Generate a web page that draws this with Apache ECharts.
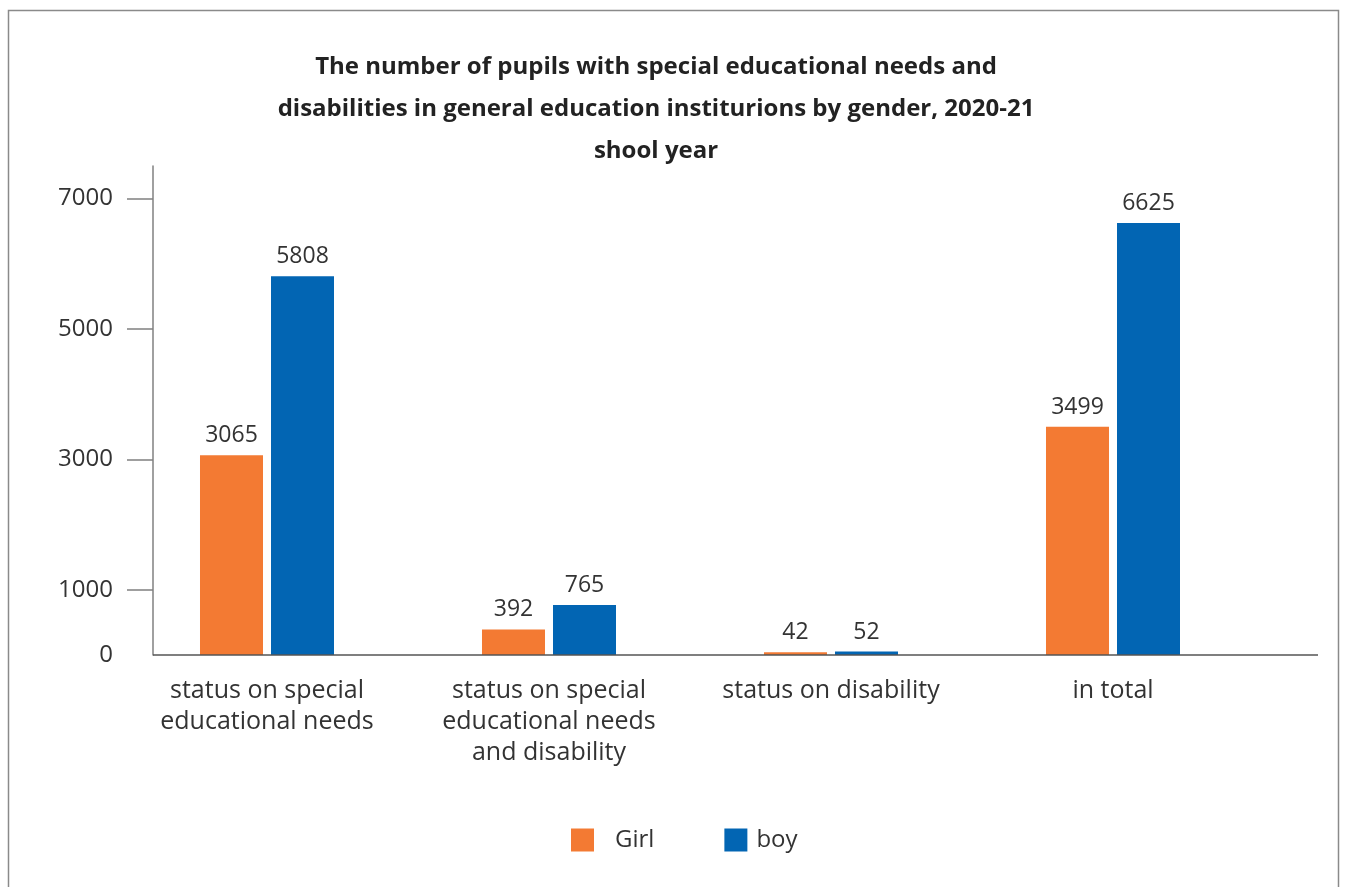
<!DOCTYPE html>
<html>
<head>
<meta charset="utf-8">
<script src="https://cdn.jsdelivr.net/npm/echarts@6/dist/echarts.min.js"></script>
<style>
html,body{margin:0;padding:0;background:#fff;}
#chart{width:1346px;height:887px;}
</style>
</head>
<body>
<div id="chart"></div>
<script>
const titleText = 'The number of pupils with special educational needs and\ndisabilities in general education institurions by gender, 2020-21\nshool year';
const categories = ['status on special\neducational needs', 'status on special\neducational needs\nand disability', 'status on disability', 'in total'];
const seriesNames = ['Girl', 'boy'];
const girlValues = [3065, 392, 42, 3499];
const boyValues = [5808, 765, 52, 6625];
const yTickLabels = [0, 1000, 3000, 5000, 7000];

const FONT = '"Open Sans", "Noto Sans", sans-serif';
const chart = echarts.init(document.getElementById('chart'), null, {renderer: 'canvas'});

const labelStyle = {show: true, position: 'top', distance: 8, color: '#333', fontSize: 23, fontFamily: FONT};

chart.setOption({
  animation: false,
  backgroundColor: '#fff',
  title: {
    text: titleText,
    left: 651,
    textAlign: 'center',
    top: 41,
    textStyle: {fontFamily: FONT, fontWeight: 'bold', fontSize: 24, lineHeight: 42, color: '#222'}
  },
  legend: {
    left: 566,
    top: 823,
    itemWidth: 23,
    itemHeight: 23,
    itemGap: 70,
    icon: 'rect',
    textStyle: {fontFamily: FONT, fontSize: 24, color: '#333'},
    data: [
      {name: seriesNames[0], textStyle: {padding: [0, 0, 0, 16]}},
      {name: seriesNames[1], textStyle: {padding: [0, 0, 0, 4]}}
    ]
  },
  grid: {left: 126, right: 92, top: 166, bottom: 232, containLabel: false},
  xAxis: {
    type: 'category',
    data: categories,
    axisLine: {show: false},
    axisTick: {show: false},
    axisLabel: {margin: 20, fontFamily: FONT, fontSize: 25, lineHeight: 31, color: '#333', interval: 0}
  },
  yAxis: {
    type: 'value',
    min: 0,
    max: 7500,
    offset: -27,
    splitLine: {show: false},
    axisLine: {show: true, lineStyle: {color: '#808080', width: 1.5}},
    axisTick: {show: true, length: 26, lineStyle: {color: '#808080', width: 1.5}, customValues: yTickLabels.filter(v => v !== 0)},
    axisLabel: {margin: 40, fontFamily: FONT, fontSize: 24, color: '#333', customValues: yTickLabels, formatter: v => String(v)}
  },
  graphic: [
    {type: 'rect', shape: {x: 8.5, y: 10.5, width: 1330, height: 900}, style: {fill: 'none', stroke: '#8a8a8a', lineWidth: 1.5}, silent: true},
    {type: 'line', shape: {x1: 153, y1: 655, x2: 1318, y2: 655}, style: {stroke: '#555', lineWidth: 1.5}, silent: true, z: 10}
  ],
  series: [
    {name: seriesNames[0], type: 'bar', data: girlValues, barWidth: 63, barGap: '12.7%', itemStyle: {color: '#F37A33'}, label: labelStyle},
    {name: seriesNames[1], type: 'bar', data: boyValues, barWidth: 63, barGap: '12.7%', itemStyle: {color: '#0265B3'}, label: labelStyle}
  ]
});
</script>
</body>
</html>
